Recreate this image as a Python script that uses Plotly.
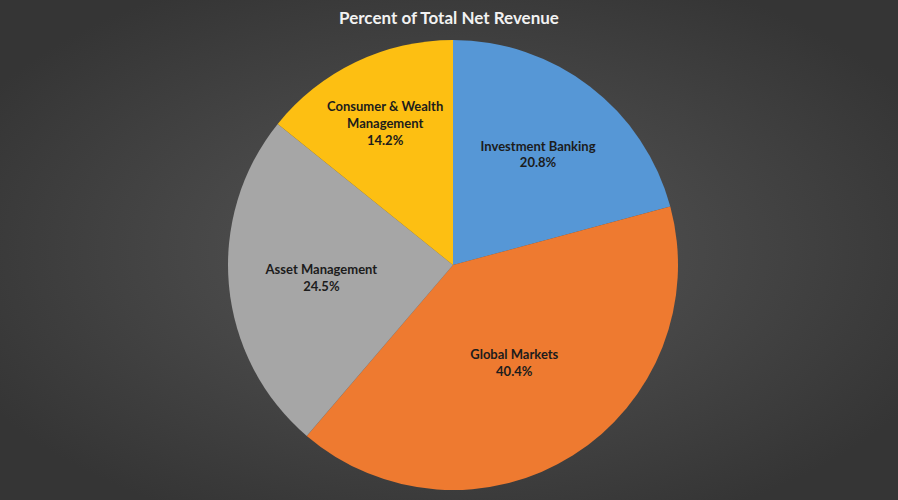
import base64
import plotly.graph_objects as go

segments = ["Investment Banking", "Global Markets", "Asset Management", "Consumer & Wealth<br>Management"]
share_pct = [20.8, 40.4, 24.5, 14.2]
slice_colors = ["#5697d6", "#ee7a30", "#a6a6a6", "#fdbf12"]

W, H = 898, 500
svg = f'''<svg xmlns="http://www.w3.org/2000/svg" width="{W}" height="{H}">
<defs><radialGradient id="g" cx="50%" cy="50%" r="60%">
<stop offset="0%" stop-color="#575757"/><stop offset="100%" stop-color="#353535"/>
</radialGradient></defs><rect width="{W}" height="{H}" fill="url(#g)"/></svg>'''
bg_uri = "data:image/svg+xml;base64," + base64.b64encode(svg.encode()).decode()

fig = go.Figure(go.Pie(
    labels=segments,
    values=share_pct,
    sort=False,
    direction="clockwise",
    rotation=0,
    marker=dict(colors=slice_colors, line=dict(width=0)),
    texttemplate="<b>%{label}<br>%{value:.1f}%</b>",
    textposition="inside",
    insidetextorientation="horizontal",
    textfont=dict(family="Lato", size=13, color="#1c1c1c"),
    hoverinfo="label+value",
    showlegend=False,
    domain=dict(x=[(453 - 225) / W, (453 + 225) / W], y=[10 / H, 460 / H]),
))

fig.update_layout(
    width=W, height=H,
    margin=dict(l=0, r=0, t=0, b=0),
    paper_bgcolor="#444444",
    plot_bgcolor="rgba(0,0,0,0)",
    title=dict(text="<b>Percent of Total Net Revenue</b>", x=0.5, xanchor="center",
               y=1 - 18 / H, yanchor="middle", yref="container",
               font=dict(family="Lato", size=17, color="#f2f2f2")),
    images=[dict(source=bg_uri, xref="paper", yref="paper", x=0, y=1, sizex=1, sizey=1,
                 xanchor="left", yanchor="top", sizing="stretch", layer="below")],
)

fig.write_html("out.html")
